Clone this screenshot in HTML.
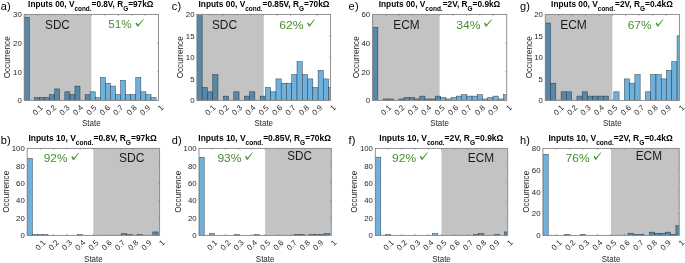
<!DOCTYPE html><html><head><meta charset="utf-8"><style>html,body{margin:0;padding:0;background:#fff;width:685px;height:263px;overflow:hidden}svg{display:block;will-change:transform}text{font-family:"Liberation Sans", sans-serif}</style></head><body>
<svg width="685" height="263" viewBox="0 0 685 263">
<rect width="685" height="263" fill="#fff"/>
<rect x="24.2" y="14.4" width="67.15" height="86" fill="#c3c3c3"/>
<g clip-path="url(#ca)">
<rect x="24.25" y="17.27" width="5.07" height="83.13" fill="#5788aa" stroke="#25303a" stroke-width="0.5" stroke-opacity="0.9"/>
<rect x="34.39" y="97.53" width="5.07" height="2.87" fill="#5788aa" stroke="#25303a" stroke-width="0.5" stroke-opacity="0.9"/>
<rect x="39.46" y="97.53" width="5.07" height="2.87" fill="#5788aa" stroke="#25303a" stroke-width="0.5" stroke-opacity="0.9"/>
<rect x="44.53" y="97.53" width="5.07" height="2.87" fill="#5788aa" stroke="#25303a" stroke-width="0.5" stroke-opacity="0.9"/>
<rect x="49.6" y="94.67" width="5.07" height="5.73" fill="#5788aa" stroke="#25303a" stroke-width="0.5" stroke-opacity="0.9"/>
<rect x="54.67" y="88.93" width="5.07" height="11.47" fill="#5788aa" stroke="#25303a" stroke-width="0.5" stroke-opacity="0.9"/>
<rect x="64.81" y="91.8" width="5.07" height="8.6" fill="#5788aa" stroke="#25303a" stroke-width="0.5" stroke-opacity="0.9"/>
<rect x="69.88" y="94.67" width="5.07" height="5.73" fill="#5788aa" stroke="#25303a" stroke-width="0.5" stroke-opacity="0.9"/>
<rect x="74.95" y="86.07" width="5.07" height="14.33" fill="#5788aa" stroke="#25303a" stroke-width="0.5" stroke-opacity="0.9"/>
<rect x="85.09" y="94.67" width="5.07" height="5.73" fill="#5788aa" stroke="#25303a" stroke-width="0.5" stroke-opacity="0.9"/>
<rect x="90.16" y="91.8" width="5.07" height="8.6" fill="#70b1db" stroke="#25303a" stroke-width="0.5" stroke-opacity="0.9"/>
<rect x="95.23" y="97.53" width="5.07" height="2.87" fill="#70b1db" stroke="#25303a" stroke-width="0.5" stroke-opacity="0.9"/>
<rect x="100.3" y="77.47" width="5.07" height="22.93" fill="#70b1db" stroke="#25303a" stroke-width="0.5" stroke-opacity="0.9"/>
<rect x="105.37" y="83.2" width="5.07" height="17.2" fill="#70b1db" stroke="#25303a" stroke-width="0.5" stroke-opacity="0.9"/>
<rect x="110.44" y="86.07" width="5.07" height="14.33" fill="#70b1db" stroke="#25303a" stroke-width="0.5" stroke-opacity="0.9"/>
<rect x="115.51" y="94.67" width="5.07" height="5.73" fill="#70b1db" stroke="#25303a" stroke-width="0.5" stroke-opacity="0.9"/>
<rect x="120.58" y="80.33" width="5.07" height="20.07" fill="#70b1db" stroke="#25303a" stroke-width="0.5" stroke-opacity="0.9"/>
<rect x="125.65" y="94.67" width="5.07" height="5.73" fill="#70b1db" stroke="#25303a" stroke-width="0.5" stroke-opacity="0.9"/>
<rect x="130.72" y="94.67" width="5.07" height="5.73" fill="#70b1db" stroke="#25303a" stroke-width="0.5" stroke-opacity="0.9"/>
<rect x="135.79" y="77.47" width="5.07" height="22.93" fill="#70b1db" stroke="#25303a" stroke-width="0.5" stroke-opacity="0.9"/>
<rect x="140.86" y="91.8" width="5.07" height="8.6" fill="#70b1db" stroke="#25303a" stroke-width="0.5" stroke-opacity="0.9"/>
<rect x="145.93" y="94.67" width="5.07" height="5.73" fill="#70b1db" stroke="#25303a" stroke-width="0.5" stroke-opacity="0.9"/>
<rect x="151" y="97.53" width="5.07" height="2.87" fill="#70b1db" stroke="#25303a" stroke-width="0.5" stroke-opacity="0.9"/>
</g>
<defs><clipPath id="ca"><rect x="24.2" y="14.4" width="134.3" height="86"/></clipPath></defs>
<rect x="24.2" y="14.4" width="134.3" height="86" fill="none" stroke="#858585" stroke-width="0.9"/>
<path d="M37.63 100.4 v-1.3 M37.63 14.4 v1.3" stroke="#858585" stroke-width="0.8"/>
<path d="M51.06 100.4 v-1.3 M51.06 14.4 v1.3" stroke="#858585" stroke-width="0.8"/>
<path d="M64.49 100.4 v-1.3 M64.49 14.4 v1.3" stroke="#858585" stroke-width="0.8"/>
<path d="M77.92 100.4 v-1.3 M77.92 14.4 v1.3" stroke="#858585" stroke-width="0.8"/>
<path d="M91.35 100.4 v-1.3 M91.35 14.4 v1.3" stroke="#858585" stroke-width="0.8"/>
<path d="M104.78 100.4 v-1.3 M104.78 14.4 v1.3" stroke="#858585" stroke-width="0.8"/>
<path d="M118.21 100.4 v-1.3 M118.21 14.4 v1.3" stroke="#858585" stroke-width="0.8"/>
<path d="M131.64 100.4 v-1.3 M131.64 14.4 v1.3" stroke="#858585" stroke-width="0.8"/>
<path d="M145.07 100.4 v-1.3 M145.07 14.4 v1.3" stroke="#858585" stroke-width="0.8"/>
<path d="M24.2 71.73 h1.3 M158.5 71.73 h-1.3" stroke="#858585" stroke-width="0.8"/>
<path d="M24.2 43.07 h1.3 M158.5 43.07 h-1.3" stroke="#858585" stroke-width="0.8"/>
<text x="21.8" y="103.2" font-size="7.8" text-anchor="end" fill="#262626">0</text>
<text x="21.8" y="74.53" font-size="7.8" text-anchor="end" fill="#262626">10</text>
<text x="21.8" y="45.87" font-size="7.8" text-anchor="end" fill="#262626">20</text>
<text x="21.8" y="17.2" font-size="7.8" text-anchor="end" fill="#262626">30</text>
<text x="10.5" y="57.3" font-size="8.7" text-anchor="middle" fill="#262626" textLength="42" lengthAdjust="spacingAndGlyphs" transform="rotate(-90 10.5 57.3)">Occurrence</text>
<text x="43.33" y="108.1" font-size="7.8" text-anchor="end" fill="#262626" transform="rotate(-45 43.33 108.1)">0.1</text>
<text x="56.76" y="108.1" font-size="7.8" text-anchor="end" fill="#262626" transform="rotate(-45 56.76 108.1)">0.2</text>
<text x="70.19" y="108.1" font-size="7.8" text-anchor="end" fill="#262626" transform="rotate(-45 70.19 108.1)">0.3</text>
<text x="83.62" y="108.1" font-size="7.8" text-anchor="end" fill="#262626" transform="rotate(-45 83.62 108.1)">0.4</text>
<text x="97.05" y="108.1" font-size="7.8" text-anchor="end" fill="#262626" transform="rotate(-45 97.05 108.1)">0.5</text>
<text x="110.48" y="108.1" font-size="7.8" text-anchor="end" fill="#262626" transform="rotate(-45 110.48 108.1)">0.6</text>
<text x="123.91" y="108.1" font-size="7.8" text-anchor="end" fill="#262626" transform="rotate(-45 123.91 108.1)">0.7</text>
<text x="137.34" y="108.1" font-size="7.8" text-anchor="end" fill="#262626" transform="rotate(-45 137.34 108.1)">0.8</text>
<text x="150.77" y="108.1" font-size="7.8" text-anchor="end" fill="#262626" transform="rotate(-45 150.77 108.1)">0.9</text>
<text x="164.2" y="108.1" font-size="7.8" text-anchor="end" fill="#262626" transform="rotate(-45 164.2 108.1)">1</text>
<text x="91.35" y="126" font-size="8.7" text-anchor="middle" fill="#262626" textLength="18.6" lengthAdjust="spacingAndGlyphs">State</text>
<text x="28.1" y="6.8" font-size="8.2" font-weight="bold" fill="#000" textLength="125.3" lengthAdjust="spacingAndGlyphs">Inputs 00, V<tspan font-size="6.4" dy="3.8">cond.</tspan><tspan dy="-3.8">=0.8V, R</tspan><tspan font-size="6.4" dy="3.8">G</tspan><tspan dy="-3.8">=97k&#937;</tspan></text>
<text x="0.8" y="9.8" font-size="11" fill="#000">a<tspan dx="0.15">)</tspan></text>
<text x="45.05" y="28.7" font-size="12" fill="#1a1a1a" textLength="24.8" lengthAdjust="spacingAndGlyphs">SDC</text>
<text x="108.2" y="28.2" font-size="11.2" fill="#468f30" textLength="23.5" lengthAdjust="spacingAndGlyphs">51%</text>
<path d="M135.5 23.14 L136.6 22.48 L138.01 24.7 L143.35 18.95 L143.75 19.45 L138.21 26.5 L137.21 26.45 Z" fill="#468f30"/>
<rect x="196.9" y="14.4" width="66.85" height="86" fill="#c3c3c3"/>
<g clip-path="url(#cc)">
<rect x="196.9" y="14.4" width="5.27" height="86" fill="#5788aa" stroke="#25303a" stroke-width="0.5" stroke-opacity="0.9"/>
<rect x="202.17" y="87.5" width="5.27" height="12.9" fill="#5788aa" stroke="#25303a" stroke-width="0.5" stroke-opacity="0.9"/>
<rect x="207.44" y="91.8" width="5.27" height="8.6" fill="#5788aa" stroke="#25303a" stroke-width="0.5" stroke-opacity="0.9"/>
<rect x="212.71" y="74.6" width="5.27" height="25.8" fill="#5788aa" stroke="#25303a" stroke-width="0.5" stroke-opacity="0.9"/>
<rect x="223.25" y="96.1" width="5.27" height="4.3" fill="#5788aa" stroke="#25303a" stroke-width="0.5" stroke-opacity="0.9"/>
<rect x="233.79" y="91.8" width="5.27" height="8.6" fill="#5788aa" stroke="#25303a" stroke-width="0.5" stroke-opacity="0.9"/>
<rect x="244.33" y="96.1" width="5.27" height="4.3" fill="#5788aa" stroke="#25303a" stroke-width="0.5" stroke-opacity="0.9"/>
<rect x="249.6" y="91.8" width="5.27" height="8.6" fill="#5788aa" stroke="#25303a" stroke-width="0.5" stroke-opacity="0.9"/>
<rect x="260.14" y="96.1" width="5.27" height="4.3" fill="#5788aa" stroke="#25303a" stroke-width="0.5" stroke-opacity="0.9"/>
<rect x="265.41" y="87.5" width="5.27" height="12.9" fill="#70b1db" stroke="#25303a" stroke-width="0.5" stroke-opacity="0.9"/>
<rect x="270.68" y="91.8" width="5.27" height="8.6" fill="#70b1db" stroke="#25303a" stroke-width="0.5" stroke-opacity="0.9"/>
<rect x="275.95" y="78.9" width="5.27" height="21.5" fill="#70b1db" stroke="#25303a" stroke-width="0.5" stroke-opacity="0.9"/>
<rect x="281.22" y="83.2" width="5.27" height="17.2" fill="#70b1db" stroke="#25303a" stroke-width="0.5" stroke-opacity="0.9"/>
<rect x="286.49" y="83.2" width="5.27" height="17.2" fill="#70b1db" stroke="#25303a" stroke-width="0.5" stroke-opacity="0.9"/>
<rect x="291.76" y="74.6" width="5.27" height="25.8" fill="#70b1db" stroke="#25303a" stroke-width="0.5" stroke-opacity="0.9"/>
<rect x="297.03" y="61.7" width="5.27" height="38.7" fill="#70b1db" stroke="#25303a" stroke-width="0.5" stroke-opacity="0.9"/>
<rect x="302.3" y="74.6" width="5.27" height="25.8" fill="#70b1db" stroke="#25303a" stroke-width="0.5" stroke-opacity="0.9"/>
<rect x="307.57" y="78.9" width="5.27" height="21.5" fill="#70b1db" stroke="#25303a" stroke-width="0.5" stroke-opacity="0.9"/>
<rect x="312.84" y="87.5" width="5.27" height="12.9" fill="#70b1db" stroke="#25303a" stroke-width="0.5" stroke-opacity="0.9"/>
<rect x="318.11" y="70.3" width="5.27" height="30.1" fill="#70b1db" stroke="#25303a" stroke-width="0.5" stroke-opacity="0.9"/>
<rect x="323.38" y="78.9" width="5.27" height="21.5" fill="#70b1db" stroke="#25303a" stroke-width="0.5" stroke-opacity="0.9"/>
<rect x="328.65" y="87.5" width="5.27" height="12.9" fill="#70b1db" stroke="#25303a" stroke-width="0.5" stroke-opacity="0.9"/>
</g>
<defs><clipPath id="cc"><rect x="196.9" y="14.4" width="133.7" height="86"/></clipPath></defs>
<rect x="196.9" y="14.4" width="133.7" height="86" fill="none" stroke="#858585" stroke-width="0.9"/>
<path d="M210.27 100.4 v-1.3 M210.27 14.4 v1.3" stroke="#858585" stroke-width="0.8"/>
<path d="M223.64 100.4 v-1.3 M223.64 14.4 v1.3" stroke="#858585" stroke-width="0.8"/>
<path d="M237.01 100.4 v-1.3 M237.01 14.4 v1.3" stroke="#858585" stroke-width="0.8"/>
<path d="M250.38 100.4 v-1.3 M250.38 14.4 v1.3" stroke="#858585" stroke-width="0.8"/>
<path d="M263.75 100.4 v-1.3 M263.75 14.4 v1.3" stroke="#858585" stroke-width="0.8"/>
<path d="M277.12 100.4 v-1.3 M277.12 14.4 v1.3" stroke="#858585" stroke-width="0.8"/>
<path d="M290.49 100.4 v-1.3 M290.49 14.4 v1.3" stroke="#858585" stroke-width="0.8"/>
<path d="M303.86 100.4 v-1.3 M303.86 14.4 v1.3" stroke="#858585" stroke-width="0.8"/>
<path d="M317.23 100.4 v-1.3 M317.23 14.4 v1.3" stroke="#858585" stroke-width="0.8"/>
<path d="M196.9 78.9 h1.3 M330.6 78.9 h-1.3" stroke="#858585" stroke-width="0.8"/>
<path d="M196.9 57.4 h1.3 M330.6 57.4 h-1.3" stroke="#858585" stroke-width="0.8"/>
<path d="M196.9 35.9 h1.3 M330.6 35.9 h-1.3" stroke="#858585" stroke-width="0.8"/>
<text x="194.5" y="103.2" font-size="7.8" text-anchor="end" fill="#262626">0</text>
<text x="194.5" y="81.7" font-size="7.8" text-anchor="end" fill="#262626">5</text>
<text x="194.5" y="60.2" font-size="7.8" text-anchor="end" fill="#262626">10</text>
<text x="194.5" y="38.7" font-size="7.8" text-anchor="end" fill="#262626">15</text>
<text x="194.5" y="17.2" font-size="7.8" text-anchor="end" fill="#262626">20</text>
<text x="183.2" y="57.3" font-size="8.7" text-anchor="middle" fill="#262626" textLength="42" lengthAdjust="spacingAndGlyphs" transform="rotate(-90 183.2 57.3)">Occurrence</text>
<text x="215.97" y="108.1" font-size="7.8" text-anchor="end" fill="#262626" transform="rotate(-45 215.97 108.1)">0.1</text>
<text x="229.34" y="108.1" font-size="7.8" text-anchor="end" fill="#262626" transform="rotate(-45 229.34 108.1)">0.2</text>
<text x="242.71" y="108.1" font-size="7.8" text-anchor="end" fill="#262626" transform="rotate(-45 242.71 108.1)">0.3</text>
<text x="256.08" y="108.1" font-size="7.8" text-anchor="end" fill="#262626" transform="rotate(-45 256.08 108.1)">0.4</text>
<text x="269.45" y="108.1" font-size="7.8" text-anchor="end" fill="#262626" transform="rotate(-45 269.45 108.1)">0.5</text>
<text x="282.82" y="108.1" font-size="7.8" text-anchor="end" fill="#262626" transform="rotate(-45 282.82 108.1)">0.6</text>
<text x="296.19" y="108.1" font-size="7.8" text-anchor="end" fill="#262626" transform="rotate(-45 296.19 108.1)">0.7</text>
<text x="309.56" y="108.1" font-size="7.8" text-anchor="end" fill="#262626" transform="rotate(-45 309.56 108.1)">0.8</text>
<text x="322.93" y="108.1" font-size="7.8" text-anchor="end" fill="#262626" transform="rotate(-45 322.93 108.1)">0.9</text>
<text x="336.3" y="108.1" font-size="7.8" text-anchor="end" fill="#262626" transform="rotate(-45 336.3 108.1)">1</text>
<text x="263.75" y="126" font-size="8.7" text-anchor="middle" fill="#262626" textLength="18.6" lengthAdjust="spacingAndGlyphs">State</text>
<text x="198.5" y="6.8" font-size="8.2" font-weight="bold" fill="#000" textLength="131" lengthAdjust="spacingAndGlyphs">Inputs 00, V<tspan font-size="6.4" dy="3.8">cond.</tspan><tspan dy="-3.8">=0.85V, R</tspan><tspan font-size="6.4" dy="3.8">G</tspan><tspan dy="-3.8">=70k&#937;</tspan></text>
<text x="171.8" y="9.8" font-size="11" fill="#000">c<tspan dx="0.15">)</tspan></text>
<text x="211.95" y="28.6" font-size="12" fill="#1a1a1a" textLength="25.1" lengthAdjust="spacingAndGlyphs">SDC</text>
<text x="279.2" y="28.5" font-size="11.2" fill="#468f30" textLength="24.5" lengthAdjust="spacingAndGlyphs">62%</text>
<path d="M307.2 23.23 L308.3 22.58 L309.55 24.7 L314.45 19.15 L314.85 19.65 L309.75 26.5 L308.75 26.45 Z" fill="#468f30"/>
<rect x="372.6" y="14.4" width="67.05" height="86" fill="#c3c3c3"/>
<g clip-path="url(#ce)">
<rect x="372.65" y="27.3" width="5.23" height="73.1" fill="#5788aa" stroke="#25303a" stroke-width="0.5" stroke-opacity="0.9"/>
<rect x="383.12" y="98.97" width="5.23" height="1.43" fill="#5788aa" stroke="#25303a" stroke-width="0.5" stroke-opacity="0.9"/>
<rect x="388.35" y="98.97" width="5.23" height="1.43" fill="#5788aa" stroke="#25303a" stroke-width="0.5" stroke-opacity="0.9"/>
<rect x="398.81" y="98.97" width="5.23" height="1.43" fill="#5788aa" stroke="#25303a" stroke-width="0.5" stroke-opacity="0.9"/>
<rect x="404.05" y="97.53" width="5.23" height="2.87" fill="#5788aa" stroke="#25303a" stroke-width="0.5" stroke-opacity="0.9"/>
<rect x="409.28" y="97.53" width="5.23" height="2.87" fill="#5788aa" stroke="#25303a" stroke-width="0.5" stroke-opacity="0.9"/>
<rect x="414.51" y="98.97" width="5.23" height="1.43" fill="#5788aa" stroke="#25303a" stroke-width="0.5" stroke-opacity="0.9"/>
<rect x="419.75" y="96.1" width="5.23" height="4.3" fill="#5788aa" stroke="#25303a" stroke-width="0.5" stroke-opacity="0.9"/>
<rect x="424.98" y="98.97" width="5.23" height="1.43" fill="#5788aa" stroke="#25303a" stroke-width="0.5" stroke-opacity="0.9"/>
<rect x="430.21" y="98.97" width="5.23" height="1.43" fill="#5788aa" stroke="#25303a" stroke-width="0.5" stroke-opacity="0.9"/>
<rect x="435.45" y="96.1" width="5.23" height="4.3" fill="#5788aa" stroke="#25303a" stroke-width="0.5" stroke-opacity="0.9"/>
<rect x="440.68" y="97.53" width="5.23" height="2.87" fill="#70b1db" stroke="#25303a" stroke-width="0.5" stroke-opacity="0.9"/>
<rect x="445.91" y="98.97" width="5.23" height="1.43" fill="#70b1db" stroke="#25303a" stroke-width="0.5" stroke-opacity="0.9"/>
<rect x="451.14" y="97.53" width="5.23" height="2.87" fill="#70b1db" stroke="#25303a" stroke-width="0.5" stroke-opacity="0.9"/>
<rect x="456.38" y="96.1" width="5.23" height="4.3" fill="#70b1db" stroke="#25303a" stroke-width="0.5" stroke-opacity="0.9"/>
<rect x="461.61" y="94.67" width="5.23" height="5.73" fill="#70b1db" stroke="#25303a" stroke-width="0.5" stroke-opacity="0.9"/>
<rect x="466.84" y="96.1" width="5.23" height="4.3" fill="#70b1db" stroke="#25303a" stroke-width="0.5" stroke-opacity="0.9"/>
<rect x="472.08" y="96.1" width="5.23" height="4.3" fill="#70b1db" stroke="#25303a" stroke-width="0.5" stroke-opacity="0.9"/>
<rect x="477.31" y="94.67" width="5.23" height="5.73" fill="#70b1db" stroke="#25303a" stroke-width="0.5" stroke-opacity="0.9"/>
<rect x="482.54" y="98.97" width="5.23" height="1.43" fill="#70b1db" stroke="#25303a" stroke-width="0.5" stroke-opacity="0.9"/>
<rect x="487.78" y="97.53" width="5.23" height="2.87" fill="#70b1db" stroke="#25303a" stroke-width="0.5" stroke-opacity="0.9"/>
<rect x="493.01" y="96.1" width="5.23" height="4.3" fill="#70b1db" stroke="#25303a" stroke-width="0.5" stroke-opacity="0.9"/>
<rect x="498.24" y="98.97" width="5.23" height="1.43" fill="#70b1db" stroke="#25303a" stroke-width="0.5" stroke-opacity="0.9"/>
<rect x="503.47" y="94.67" width="5.23" height="5.73" fill="#70b1db" stroke="#25303a" stroke-width="0.5" stroke-opacity="0.9"/>
</g>
<defs><clipPath id="ce"><rect x="372.6" y="14.4" width="134.1" height="86"/></clipPath></defs>
<rect x="372.6" y="14.4" width="134.1" height="86" fill="none" stroke="#858585" stroke-width="0.9"/>
<path d="M386.01 100.4 v-1.3 M386.01 14.4 v1.3" stroke="#858585" stroke-width="0.8"/>
<path d="M399.42 100.4 v-1.3 M399.42 14.4 v1.3" stroke="#858585" stroke-width="0.8"/>
<path d="M412.83 100.4 v-1.3 M412.83 14.4 v1.3" stroke="#858585" stroke-width="0.8"/>
<path d="M426.24 100.4 v-1.3 M426.24 14.4 v1.3" stroke="#858585" stroke-width="0.8"/>
<path d="M439.65 100.4 v-1.3 M439.65 14.4 v1.3" stroke="#858585" stroke-width="0.8"/>
<path d="M453.06 100.4 v-1.3 M453.06 14.4 v1.3" stroke="#858585" stroke-width="0.8"/>
<path d="M466.47 100.4 v-1.3 M466.47 14.4 v1.3" stroke="#858585" stroke-width="0.8"/>
<path d="M479.88 100.4 v-1.3 M479.88 14.4 v1.3" stroke="#858585" stroke-width="0.8"/>
<path d="M493.29 100.4 v-1.3 M493.29 14.4 v1.3" stroke="#858585" stroke-width="0.8"/>
<path d="M372.6 71.73 h1.3 M506.7 71.73 h-1.3" stroke="#858585" stroke-width="0.8"/>
<path d="M372.6 43.07 h1.3 M506.7 43.07 h-1.3" stroke="#858585" stroke-width="0.8"/>
<text x="370.2" y="103.2" font-size="7.8" text-anchor="end" fill="#262626">0</text>
<text x="370.2" y="74.53" font-size="7.8" text-anchor="end" fill="#262626">20</text>
<text x="370.2" y="45.87" font-size="7.8" text-anchor="end" fill="#262626">40</text>
<text x="370.2" y="17.2" font-size="7.8" text-anchor="end" fill="#262626">60</text>
<text x="358.9" y="57.3" font-size="8.7" text-anchor="middle" fill="#262626" textLength="42" lengthAdjust="spacingAndGlyphs" transform="rotate(-90 358.9 57.3)">Occurrence</text>
<text x="391.71" y="108.1" font-size="7.8" text-anchor="end" fill="#262626" transform="rotate(-45 391.71 108.1)">0.1</text>
<text x="405.12" y="108.1" font-size="7.8" text-anchor="end" fill="#262626" transform="rotate(-45 405.12 108.1)">0.2</text>
<text x="418.53" y="108.1" font-size="7.8" text-anchor="end" fill="#262626" transform="rotate(-45 418.53 108.1)">0.3</text>
<text x="431.94" y="108.1" font-size="7.8" text-anchor="end" fill="#262626" transform="rotate(-45 431.94 108.1)">0.4</text>
<text x="445.35" y="108.1" font-size="7.8" text-anchor="end" fill="#262626" transform="rotate(-45 445.35 108.1)">0.5</text>
<text x="458.76" y="108.1" font-size="7.8" text-anchor="end" fill="#262626" transform="rotate(-45 458.76 108.1)">0.6</text>
<text x="472.17" y="108.1" font-size="7.8" text-anchor="end" fill="#262626" transform="rotate(-45 472.17 108.1)">0.7</text>
<text x="485.58" y="108.1" font-size="7.8" text-anchor="end" fill="#262626" transform="rotate(-45 485.58 108.1)">0.8</text>
<text x="498.99" y="108.1" font-size="7.8" text-anchor="end" fill="#262626" transform="rotate(-45 498.99 108.1)">0.9</text>
<text x="512.4" y="108.1" font-size="7.8" text-anchor="end" fill="#262626" transform="rotate(-45 512.4 108.1)">1</text>
<text x="439.65" y="126" font-size="8.7" text-anchor="middle" fill="#262626" textLength="18.6" lengthAdjust="spacingAndGlyphs">State</text>
<text x="378.7" y="6.8" font-size="8.2" font-weight="bold" fill="#000" textLength="121.6" lengthAdjust="spacingAndGlyphs">Inputs 00, V<tspan font-size="6.4" dy="3.8">cond.</tspan><tspan dy="-3.8">=2V, R</tspan><tspan font-size="6.4" dy="3.8">G</tspan><tspan dy="-3.8">=0.9k&#937;</tspan></text>
<text x="348.6" y="9.8" font-size="11" fill="#000">e<tspan dx="0.15">)</tspan></text>
<text x="393.35" y="28.6" font-size="12" fill="#1a1a1a" textLength="26.2" lengthAdjust="spacingAndGlyphs">ECM</text>
<text x="456.2" y="28.5" font-size="11.2" fill="#468f30" textLength="24.3" lengthAdjust="spacingAndGlyphs">34%</text>
<path d="M484 23.23 L485.1 22.58 L486.41 24.7 L491.45 19.15 L491.85 19.65 L486.61 26.5 L485.61 26.45 Z" fill="#468f30"/>
<rect x="545.3" y="14.4" width="67.05" height="86" fill="#c3c3c3"/>
<g clip-path="url(#cg)">
<rect x="545.3" y="23" width="5.27" height="77.4" fill="#5788aa" stroke="#25303a" stroke-width="0.5" stroke-opacity="0.9"/>
<rect x="550.57" y="83.2" width="5.27" height="17.2" fill="#5788aa" stroke="#25303a" stroke-width="0.5" stroke-opacity="0.9"/>
<rect x="561.11" y="91.8" width="5.27" height="8.6" fill="#5788aa" stroke="#25303a" stroke-width="0.5" stroke-opacity="0.9"/>
<rect x="566.38" y="91.8" width="5.27" height="8.6" fill="#5788aa" stroke="#25303a" stroke-width="0.5" stroke-opacity="0.9"/>
<rect x="576.92" y="96.1" width="5.27" height="4.3" fill="#5788aa" stroke="#25303a" stroke-width="0.5" stroke-opacity="0.9"/>
<rect x="582.19" y="91.8" width="5.27" height="8.6" fill="#5788aa" stroke="#25303a" stroke-width="0.5" stroke-opacity="0.9"/>
<rect x="587.46" y="96.1" width="5.27" height="4.3" fill="#5788aa" stroke="#25303a" stroke-width="0.5" stroke-opacity="0.9"/>
<rect x="592.73" y="96.1" width="5.27" height="4.3" fill="#5788aa" stroke="#25303a" stroke-width="0.5" stroke-opacity="0.9"/>
<rect x="598" y="96.1" width="5.27" height="4.3" fill="#5788aa" stroke="#25303a" stroke-width="0.5" stroke-opacity="0.9"/>
<rect x="603.27" y="96.1" width="5.27" height="4.3" fill="#5788aa" stroke="#25303a" stroke-width="0.5" stroke-opacity="0.9"/>
<rect x="613.81" y="91.8" width="5.27" height="8.6" fill="#70b1db" stroke="#25303a" stroke-width="0.5" stroke-opacity="0.9"/>
<rect x="624.35" y="78.9" width="5.27" height="21.5" fill="#70b1db" stroke="#25303a" stroke-width="0.5" stroke-opacity="0.9"/>
<rect x="629.62" y="83.2" width="5.27" height="17.2" fill="#70b1db" stroke="#25303a" stroke-width="0.5" stroke-opacity="0.9"/>
<rect x="634.89" y="74.6" width="5.27" height="25.8" fill="#70b1db" stroke="#25303a" stroke-width="0.5" stroke-opacity="0.9"/>
<rect x="645.43" y="91.8" width="5.27" height="8.6" fill="#70b1db" stroke="#25303a" stroke-width="0.5" stroke-opacity="0.9"/>
<rect x="650.7" y="74.6" width="5.27" height="25.8" fill="#70b1db" stroke="#25303a" stroke-width="0.5" stroke-opacity="0.9"/>
<rect x="655.97" y="74.6" width="5.27" height="25.8" fill="#70b1db" stroke="#25303a" stroke-width="0.5" stroke-opacity="0.9"/>
<rect x="661.24" y="78.9" width="5.27" height="21.5" fill="#70b1db" stroke="#25303a" stroke-width="0.5" stroke-opacity="0.9"/>
<rect x="666.51" y="70.3" width="5.27" height="30.1" fill="#70b1db" stroke="#25303a" stroke-width="0.5" stroke-opacity="0.9"/>
<rect x="671.78" y="61.7" width="5.27" height="38.7" fill="#70b1db" stroke="#25303a" stroke-width="0.5" stroke-opacity="0.9"/>
<rect x="677.05" y="35.9" width="5.27" height="64.5" fill="#70b1db" stroke="#25303a" stroke-width="0.5" stroke-opacity="0.9"/>
</g>
<defs><clipPath id="cg"><rect x="545.3" y="14.4" width="134.1" height="86"/></clipPath></defs>
<rect x="545.3" y="14.4" width="134.1" height="86" fill="none" stroke="#858585" stroke-width="0.9"/>
<path d="M558.71 100.4 v-1.3 M558.71 14.4 v1.3" stroke="#858585" stroke-width="0.8"/>
<path d="M572.12 100.4 v-1.3 M572.12 14.4 v1.3" stroke="#858585" stroke-width="0.8"/>
<path d="M585.53 100.4 v-1.3 M585.53 14.4 v1.3" stroke="#858585" stroke-width="0.8"/>
<path d="M598.94 100.4 v-1.3 M598.94 14.4 v1.3" stroke="#858585" stroke-width="0.8"/>
<path d="M612.35 100.4 v-1.3 M612.35 14.4 v1.3" stroke="#858585" stroke-width="0.8"/>
<path d="M625.76 100.4 v-1.3 M625.76 14.4 v1.3" stroke="#858585" stroke-width="0.8"/>
<path d="M639.17 100.4 v-1.3 M639.17 14.4 v1.3" stroke="#858585" stroke-width="0.8"/>
<path d="M652.58 100.4 v-1.3 M652.58 14.4 v1.3" stroke="#858585" stroke-width="0.8"/>
<path d="M665.99 100.4 v-1.3 M665.99 14.4 v1.3" stroke="#858585" stroke-width="0.8"/>
<path d="M545.3 78.9 h1.3 M679.4 78.9 h-1.3" stroke="#858585" stroke-width="0.8"/>
<path d="M545.3 57.4 h1.3 M679.4 57.4 h-1.3" stroke="#858585" stroke-width="0.8"/>
<path d="M545.3 35.9 h1.3 M679.4 35.9 h-1.3" stroke="#858585" stroke-width="0.8"/>
<text x="542.9" y="103.2" font-size="7.8" text-anchor="end" fill="#262626">0</text>
<text x="542.9" y="81.7" font-size="7.8" text-anchor="end" fill="#262626">5</text>
<text x="542.9" y="60.2" font-size="7.8" text-anchor="end" fill="#262626">10</text>
<text x="542.9" y="38.7" font-size="7.8" text-anchor="end" fill="#262626">15</text>
<text x="542.9" y="17.2" font-size="7.8" text-anchor="end" fill="#262626">20</text>
<text x="531.6" y="57.3" font-size="8.7" text-anchor="middle" fill="#262626" textLength="42" lengthAdjust="spacingAndGlyphs" transform="rotate(-90 531.6 57.3)">Occurrence</text>
<text x="564.41" y="108.1" font-size="7.8" text-anchor="end" fill="#262626" transform="rotate(-45 564.41 108.1)">0.1</text>
<text x="577.82" y="108.1" font-size="7.8" text-anchor="end" fill="#262626" transform="rotate(-45 577.82 108.1)">0.2</text>
<text x="591.23" y="108.1" font-size="7.8" text-anchor="end" fill="#262626" transform="rotate(-45 591.23 108.1)">0.3</text>
<text x="604.64" y="108.1" font-size="7.8" text-anchor="end" fill="#262626" transform="rotate(-45 604.64 108.1)">0.4</text>
<text x="618.05" y="108.1" font-size="7.8" text-anchor="end" fill="#262626" transform="rotate(-45 618.05 108.1)">0.5</text>
<text x="631.46" y="108.1" font-size="7.8" text-anchor="end" fill="#262626" transform="rotate(-45 631.46 108.1)">0.6</text>
<text x="644.87" y="108.1" font-size="7.8" text-anchor="end" fill="#262626" transform="rotate(-45 644.87 108.1)">0.7</text>
<text x="658.28" y="108.1" font-size="7.8" text-anchor="end" fill="#262626" transform="rotate(-45 658.28 108.1)">0.8</text>
<text x="671.69" y="108.1" font-size="7.8" text-anchor="end" fill="#262626" transform="rotate(-45 671.69 108.1)">0.9</text>
<text x="685.1" y="108.1" font-size="7.8" text-anchor="end" fill="#262626" transform="rotate(-45 685.1 108.1)">1</text>
<text x="612.35" y="126" font-size="8.7" text-anchor="middle" fill="#262626" textLength="18.6" lengthAdjust="spacingAndGlyphs">State</text>
<text x="551.1" y="6.8" font-size="8.2" font-weight="bold" fill="#000" textLength="121.7" lengthAdjust="spacingAndGlyphs">Inputs 00, V<tspan font-size="6.4" dy="3.8">cond.</tspan><tspan dy="-3.8">=2V, R</tspan><tspan font-size="6.4" dy="3.8">G</tspan><tspan dy="-3.8">=0.4k&#937;</tspan></text>
<text x="519.9" y="9.8" font-size="11" fill="#000">g<tspan dx="0.15">)</tspan></text>
<text x="560.15" y="28.6" font-size="12" fill="#1a1a1a" textLength="26.7" lengthAdjust="spacingAndGlyphs">ECM</text>
<text x="627.7" y="28.5" font-size="11.2" fill="#468f30" textLength="24" lengthAdjust="spacingAndGlyphs">67%</text>
<path d="M655.7 23.23 L656.8 22.58 L658.05 24.7 L662.95 19.15 L663.35 19.65 L658.25 26.5 L657.25 26.45 Z" fill="#468f30"/>
<rect x="93.4" y="148.4" width="66.2" height="87" fill="#c3c3c3"/>
<g clip-path="url(#cb)">
<rect x="27.2" y="158.41" width="5.2" height="77" fill="#70b1db" stroke="#25303a" stroke-width="0.5" stroke-opacity="0.9"/>
<rect x="32.4" y="234.53" width="5.2" height="0.87" fill="#70b1db" stroke="#25303a" stroke-width="0.5" stroke-opacity="0.9"/>
<rect x="37.6" y="234.53" width="5.2" height="0.87" fill="#70b1db" stroke="#25303a" stroke-width="0.5" stroke-opacity="0.9"/>
<rect x="42.8" y="234.53" width="5.2" height="0.87" fill="#70b1db" stroke="#25303a" stroke-width="0.5" stroke-opacity="0.9"/>
<rect x="77.3" y="234.53" width="5.3" height="0.87" fill="#70b1db" stroke="#25303a" stroke-width="0.5" stroke-opacity="0.9"/>
<rect x="121.3" y="233.66" width="5.3" height="1.74" fill="#5788aa" stroke="#25303a" stroke-width="0.5" stroke-opacity="0.9"/>
<rect x="126.6" y="234.53" width="5.2" height="0.87" fill="#5788aa" stroke="#25303a" stroke-width="0.5" stroke-opacity="0.9"/>
<rect x="137" y="234.53" width="5.3" height="0.87" fill="#5788aa" stroke="#25303a" stroke-width="0.5" stroke-opacity="0.9"/>
<rect x="152.8" y="231.92" width="5.2" height="3.48" fill="#5788aa" stroke="#25303a" stroke-width="0.5" stroke-opacity="0.9"/>
</g>
<defs><clipPath id="cb"><rect x="27.2" y="148.4" width="132.4" height="87"/></clipPath></defs>
<rect x="27.2" y="148.4" width="132.4" height="87" fill="none" stroke="#858585" stroke-width="0.9"/>
<path d="M40.44 235.4 v-1.3 M40.44 148.4 v1.3" stroke="#858585" stroke-width="0.8"/>
<path d="M53.68 235.4 v-1.3 M53.68 148.4 v1.3" stroke="#858585" stroke-width="0.8"/>
<path d="M66.92 235.4 v-1.3 M66.92 148.4 v1.3" stroke="#858585" stroke-width="0.8"/>
<path d="M80.16 235.4 v-1.3 M80.16 148.4 v1.3" stroke="#858585" stroke-width="0.8"/>
<path d="M93.4 235.4 v-1.3 M93.4 148.4 v1.3" stroke="#858585" stroke-width="0.8"/>
<path d="M106.64 235.4 v-1.3 M106.64 148.4 v1.3" stroke="#858585" stroke-width="0.8"/>
<path d="M119.88 235.4 v-1.3 M119.88 148.4 v1.3" stroke="#858585" stroke-width="0.8"/>
<path d="M133.12 235.4 v-1.3 M133.12 148.4 v1.3" stroke="#858585" stroke-width="0.8"/>
<path d="M146.36 235.4 v-1.3 M146.36 148.4 v1.3" stroke="#858585" stroke-width="0.8"/>
<path d="M27.2 218 h1.3 M159.6 218 h-1.3" stroke="#858585" stroke-width="0.8"/>
<path d="M27.2 200.6 h1.3 M159.6 200.6 h-1.3" stroke="#858585" stroke-width="0.8"/>
<path d="M27.2 183.2 h1.3 M159.6 183.2 h-1.3" stroke="#858585" stroke-width="0.8"/>
<path d="M27.2 165.8 h1.3 M159.6 165.8 h-1.3" stroke="#858585" stroke-width="0.8"/>
<text x="24.8" y="238.2" font-size="7.8" text-anchor="end" fill="#262626">0</text>
<text x="24.8" y="220.8" font-size="7.8" text-anchor="end" fill="#262626">20</text>
<text x="24.8" y="203.4" font-size="7.8" text-anchor="end" fill="#262626">40</text>
<text x="24.8" y="186" font-size="7.8" text-anchor="end" fill="#262626">60</text>
<text x="24.8" y="168.6" font-size="7.8" text-anchor="end" fill="#262626">80</text>
<text x="24.8" y="151.2" font-size="7.8" text-anchor="end" fill="#262626">100</text>
<text x="9.2" y="191.8" font-size="8.7" text-anchor="middle" fill="#262626" textLength="42" lengthAdjust="spacingAndGlyphs" transform="rotate(-90 9.2 191.8)">Occurrence</text>
<text x="46.14" y="243.1" font-size="7.8" text-anchor="end" fill="#262626" transform="rotate(-45 46.14 243.1)">0.1</text>
<text x="59.38" y="243.1" font-size="7.8" text-anchor="end" fill="#262626" transform="rotate(-45 59.38 243.1)">0.2</text>
<text x="72.62" y="243.1" font-size="7.8" text-anchor="end" fill="#262626" transform="rotate(-45 72.62 243.1)">0.3</text>
<text x="85.86" y="243.1" font-size="7.8" text-anchor="end" fill="#262626" transform="rotate(-45 85.86 243.1)">0.4</text>
<text x="99.1" y="243.1" font-size="7.8" text-anchor="end" fill="#262626" transform="rotate(-45 99.1 243.1)">0.5</text>
<text x="112.34" y="243.1" font-size="7.8" text-anchor="end" fill="#262626" transform="rotate(-45 112.34 243.1)">0.6</text>
<text x="125.58" y="243.1" font-size="7.8" text-anchor="end" fill="#262626" transform="rotate(-45 125.58 243.1)">0.7</text>
<text x="138.82" y="243.1" font-size="7.8" text-anchor="end" fill="#262626" transform="rotate(-45 138.82 243.1)">0.8</text>
<text x="152.06" y="243.1" font-size="7.8" text-anchor="end" fill="#262626" transform="rotate(-45 152.06 243.1)">0.9</text>
<text x="165.3" y="243.1" font-size="7.8" text-anchor="end" fill="#262626" transform="rotate(-45 165.3 243.1)">1</text>
<text x="93.4" y="261.6" font-size="8.7" text-anchor="middle" fill="#262626" textLength="18.6" lengthAdjust="spacingAndGlyphs">State</text>
<text x="28.4" y="140.8" font-size="8.2" font-weight="bold" fill="#000" textLength="128.4" lengthAdjust="spacingAndGlyphs">Inputs 10, V<tspan font-size="6.4" dy="3.8">cond.</tspan><tspan dy="-3.8">=0.8V, R</tspan><tspan font-size="6.4" dy="3.8">G</tspan><tspan dy="-3.8">=97k&#937;</tspan></text>
<text x="0.8" y="143.8" font-size="11" fill="#000">b<tspan dx="0.15">)</tspan></text>
<text x="118.95" y="161.7" font-size="12" fill="#1a1a1a" textLength="25.6" lengthAdjust="spacingAndGlyphs">SDC</text>
<text x="43.8" y="161.7" font-size="11.2" fill="#468f30" textLength="23.6" lengthAdjust="spacingAndGlyphs">92%</text>
<path d="M71.4 156.74 L72.5 156.08 L73.75 158.3 L78.65 152.55 L79.05 153.05 L73.95 160.1 L72.95 160.05 Z" fill="#468f30"/>
<rect x="265.15" y="148.4" width="66.15" height="87" fill="#c3c3c3"/>
<g clip-path="url(#cd)">
<rect x="199" y="157.27" width="5.2" height="78.13" fill="#70b1db" stroke="#25303a" stroke-width="0.5" stroke-opacity="0.9"/>
<rect x="209.3" y="233.66" width="5.2" height="1.74" fill="#70b1db" stroke="#25303a" stroke-width="0.5" stroke-opacity="0.9"/>
<rect x="234.2" y="234.53" width="5.2" height="0.87" fill="#70b1db" stroke="#25303a" stroke-width="0.5" stroke-opacity="0.9"/>
<rect x="254.2" y="234.53" width="5.2" height="0.87" fill="#70b1db" stroke="#25303a" stroke-width="0.5" stroke-opacity="0.9"/>
<rect x="294.2" y="234.53" width="5.2" height="0.87" fill="#5788aa" stroke="#25303a" stroke-width="0.5" stroke-opacity="0.9"/>
<rect x="299.4" y="234.53" width="5.2" height="0.87" fill="#5788aa" stroke="#25303a" stroke-width="0.5" stroke-opacity="0.9"/>
<rect x="309" y="234.53" width="5.2" height="0.87" fill="#5788aa" stroke="#25303a" stroke-width="0.5" stroke-opacity="0.9"/>
<rect x="314.2" y="234.53" width="5.2" height="0.87" fill="#5788aa" stroke="#25303a" stroke-width="0.5" stroke-opacity="0.9"/>
<rect x="319.4" y="234.53" width="5.2" height="0.87" fill="#5788aa" stroke="#25303a" stroke-width="0.5" stroke-opacity="0.9"/>
<rect x="324.6" y="233.66" width="5.2" height="1.74" fill="#5788aa" stroke="#25303a" stroke-width="0.5" stroke-opacity="0.9"/>
</g>
<defs><clipPath id="cd"><rect x="199" y="148.4" width="132.3" height="87"/></clipPath></defs>
<rect x="199" y="148.4" width="132.3" height="87" fill="none" stroke="#858585" stroke-width="0.9"/>
<path d="M212.23 235.4 v-1.3 M212.23 148.4 v1.3" stroke="#858585" stroke-width="0.8"/>
<path d="M225.46 235.4 v-1.3 M225.46 148.4 v1.3" stroke="#858585" stroke-width="0.8"/>
<path d="M238.69 235.4 v-1.3 M238.69 148.4 v1.3" stroke="#858585" stroke-width="0.8"/>
<path d="M251.92 235.4 v-1.3 M251.92 148.4 v1.3" stroke="#858585" stroke-width="0.8"/>
<path d="M265.15 235.4 v-1.3 M265.15 148.4 v1.3" stroke="#858585" stroke-width="0.8"/>
<path d="M278.38 235.4 v-1.3 M278.38 148.4 v1.3" stroke="#858585" stroke-width="0.8"/>
<path d="M291.61 235.4 v-1.3 M291.61 148.4 v1.3" stroke="#858585" stroke-width="0.8"/>
<path d="M304.84 235.4 v-1.3 M304.84 148.4 v1.3" stroke="#858585" stroke-width="0.8"/>
<path d="M318.07 235.4 v-1.3 M318.07 148.4 v1.3" stroke="#858585" stroke-width="0.8"/>
<path d="M199 218 h1.3 M331.3 218 h-1.3" stroke="#858585" stroke-width="0.8"/>
<path d="M199 200.6 h1.3 M331.3 200.6 h-1.3" stroke="#858585" stroke-width="0.8"/>
<path d="M199 183.2 h1.3 M331.3 183.2 h-1.3" stroke="#858585" stroke-width="0.8"/>
<path d="M199 165.8 h1.3 M331.3 165.8 h-1.3" stroke="#858585" stroke-width="0.8"/>
<text x="196.6" y="238.2" font-size="7.8" text-anchor="end" fill="#262626">0</text>
<text x="196.6" y="220.8" font-size="7.8" text-anchor="end" fill="#262626">20</text>
<text x="196.6" y="203.4" font-size="7.8" text-anchor="end" fill="#262626">40</text>
<text x="196.6" y="186" font-size="7.8" text-anchor="end" fill="#262626">60</text>
<text x="196.6" y="168.6" font-size="7.8" text-anchor="end" fill="#262626">80</text>
<text x="196.6" y="151.2" font-size="7.8" text-anchor="end" fill="#262626">100</text>
<text x="181" y="191.8" font-size="8.7" text-anchor="middle" fill="#262626" textLength="42" lengthAdjust="spacingAndGlyphs" transform="rotate(-90 181 191.8)">Occurrence</text>
<text x="217.93" y="243.1" font-size="7.8" text-anchor="end" fill="#262626" transform="rotate(-45 217.93 243.1)">0.1</text>
<text x="231.16" y="243.1" font-size="7.8" text-anchor="end" fill="#262626" transform="rotate(-45 231.16 243.1)">0.2</text>
<text x="244.39" y="243.1" font-size="7.8" text-anchor="end" fill="#262626" transform="rotate(-45 244.39 243.1)">0.3</text>
<text x="257.62" y="243.1" font-size="7.8" text-anchor="end" fill="#262626" transform="rotate(-45 257.62 243.1)">0.4</text>
<text x="270.85" y="243.1" font-size="7.8" text-anchor="end" fill="#262626" transform="rotate(-45 270.85 243.1)">0.5</text>
<text x="284.08" y="243.1" font-size="7.8" text-anchor="end" fill="#262626" transform="rotate(-45 284.08 243.1)">0.6</text>
<text x="297.31" y="243.1" font-size="7.8" text-anchor="end" fill="#262626" transform="rotate(-45 297.31 243.1)">0.7</text>
<text x="310.54" y="243.1" font-size="7.8" text-anchor="end" fill="#262626" transform="rotate(-45 310.54 243.1)">0.8</text>
<text x="323.77" y="243.1" font-size="7.8" text-anchor="end" fill="#262626" transform="rotate(-45 323.77 243.1)">0.9</text>
<text x="337" y="243.1" font-size="7.8" text-anchor="end" fill="#262626" transform="rotate(-45 337 243.1)">1</text>
<text x="265.15" y="261.6" font-size="8.7" text-anchor="middle" fill="#262626" textLength="18.6" lengthAdjust="spacingAndGlyphs">State</text>
<text x="198.3" y="140.8" font-size="8.2" font-weight="bold" fill="#000" textLength="132.7" lengthAdjust="spacingAndGlyphs">Inputs 10, V<tspan font-size="6.4" dy="3.8">cond.</tspan><tspan dy="-3.8">=0.85V, R</tspan><tspan font-size="6.4" dy="3.8">G</tspan><tspan dy="-3.8">=70k&#937;</tspan></text>
<text x="171.8" y="143.8" font-size="11" fill="#000">d<tspan dx="0.15">)</tspan></text>
<text x="287.25" y="160.4" font-size="12" fill="#1a1a1a" textLength="24.8" lengthAdjust="spacingAndGlyphs">SDC</text>
<text x="217.4" y="161.7" font-size="11.2" fill="#468f30" textLength="24.1" lengthAdjust="spacingAndGlyphs">93%</text>
<path d="M245.1 156.39 L246.2 155.73 L247.45 157.9 L252.35 152.25 L252.75 152.75 L247.65 159.7 L246.65 159.65 Z" fill="#468f30"/>
<rect x="441.5" y="148.4" width="66.2" height="87" fill="#c3c3c3"/>
<g clip-path="url(#cf)">
<rect x="375.3" y="157.19" width="5.5" height="78.21" fill="#70b1db" stroke="#25303a" stroke-width="0.5" stroke-opacity="0.9"/>
<rect x="385.5" y="234.53" width="5.3" height="0.87" fill="#70b1db" stroke="#25303a" stroke-width="0.5" stroke-opacity="0.9"/>
<rect x="432.5" y="233.66" width="5.3" height="1.74" fill="#70b1db" stroke="#25303a" stroke-width="0.5" stroke-opacity="0.9"/>
<rect x="473.3" y="234.53" width="5.3" height="0.87" fill="#5788aa" stroke="#25303a" stroke-width="0.5" stroke-opacity="0.9"/>
<rect x="478.6" y="233.66" width="5.3" height="1.74" fill="#5788aa" stroke="#25303a" stroke-width="0.5" stroke-opacity="0.9"/>
<rect x="494.4" y="234.53" width="5.3" height="0.87" fill="#5788aa" stroke="#25303a" stroke-width="0.5" stroke-opacity="0.9"/>
<rect x="504.4" y="231.92" width="5.3" height="3.48" fill="#5788aa" stroke="#25303a" stroke-width="0.5" stroke-opacity="0.9"/>
</g>
<defs><clipPath id="cf"><rect x="375.3" y="148.4" width="132.4" height="87"/></clipPath></defs>
<rect x="375.3" y="148.4" width="132.4" height="87" fill="none" stroke="#858585" stroke-width="0.9"/>
<path d="M388.54 235.4 v-1.3 M388.54 148.4 v1.3" stroke="#858585" stroke-width="0.8"/>
<path d="M401.78 235.4 v-1.3 M401.78 148.4 v1.3" stroke="#858585" stroke-width="0.8"/>
<path d="M415.02 235.4 v-1.3 M415.02 148.4 v1.3" stroke="#858585" stroke-width="0.8"/>
<path d="M428.26 235.4 v-1.3 M428.26 148.4 v1.3" stroke="#858585" stroke-width="0.8"/>
<path d="M441.5 235.4 v-1.3 M441.5 148.4 v1.3" stroke="#858585" stroke-width="0.8"/>
<path d="M454.74 235.4 v-1.3 M454.74 148.4 v1.3" stroke="#858585" stroke-width="0.8"/>
<path d="M467.98 235.4 v-1.3 M467.98 148.4 v1.3" stroke="#858585" stroke-width="0.8"/>
<path d="M481.22 235.4 v-1.3 M481.22 148.4 v1.3" stroke="#858585" stroke-width="0.8"/>
<path d="M494.46 235.4 v-1.3 M494.46 148.4 v1.3" stroke="#858585" stroke-width="0.8"/>
<path d="M375.3 218 h1.3 M507.7 218 h-1.3" stroke="#858585" stroke-width="0.8"/>
<path d="M375.3 200.6 h1.3 M507.7 200.6 h-1.3" stroke="#858585" stroke-width="0.8"/>
<path d="M375.3 183.2 h1.3 M507.7 183.2 h-1.3" stroke="#858585" stroke-width="0.8"/>
<path d="M375.3 165.8 h1.3 M507.7 165.8 h-1.3" stroke="#858585" stroke-width="0.8"/>
<text x="372.9" y="238.2" font-size="7.8" text-anchor="end" fill="#262626">0</text>
<text x="372.9" y="220.8" font-size="7.8" text-anchor="end" fill="#262626">20</text>
<text x="372.9" y="203.4" font-size="7.8" text-anchor="end" fill="#262626">40</text>
<text x="372.9" y="186" font-size="7.8" text-anchor="end" fill="#262626">60</text>
<text x="372.9" y="168.6" font-size="7.8" text-anchor="end" fill="#262626">80</text>
<text x="372.9" y="151.2" font-size="7.8" text-anchor="end" fill="#262626">100</text>
<text x="357.3" y="191.8" font-size="8.7" text-anchor="middle" fill="#262626" textLength="42" lengthAdjust="spacingAndGlyphs" transform="rotate(-90 357.3 191.8)">Occurrence</text>
<text x="394.24" y="243.1" font-size="7.8" text-anchor="end" fill="#262626" transform="rotate(-45 394.24 243.1)">0.1</text>
<text x="407.48" y="243.1" font-size="7.8" text-anchor="end" fill="#262626" transform="rotate(-45 407.48 243.1)">0.2</text>
<text x="420.72" y="243.1" font-size="7.8" text-anchor="end" fill="#262626" transform="rotate(-45 420.72 243.1)">0.3</text>
<text x="433.96" y="243.1" font-size="7.8" text-anchor="end" fill="#262626" transform="rotate(-45 433.96 243.1)">0.4</text>
<text x="447.2" y="243.1" font-size="7.8" text-anchor="end" fill="#262626" transform="rotate(-45 447.2 243.1)">0.5</text>
<text x="460.44" y="243.1" font-size="7.8" text-anchor="end" fill="#262626" transform="rotate(-45 460.44 243.1)">0.6</text>
<text x="473.68" y="243.1" font-size="7.8" text-anchor="end" fill="#262626" transform="rotate(-45 473.68 243.1)">0.7</text>
<text x="486.92" y="243.1" font-size="7.8" text-anchor="end" fill="#262626" transform="rotate(-45 486.92 243.1)">0.8</text>
<text x="500.16" y="243.1" font-size="7.8" text-anchor="end" fill="#262626" transform="rotate(-45 500.16 243.1)">0.9</text>
<text x="513.4" y="243.1" font-size="7.8" text-anchor="end" fill="#262626" transform="rotate(-45 513.4 243.1)">1</text>
<text x="441.5" y="261.6" font-size="8.7" text-anchor="middle" fill="#262626" textLength="18.6" lengthAdjust="spacingAndGlyphs">State</text>
<text x="379.3" y="140.8" font-size="8.2" font-weight="bold" fill="#000" textLength="124.1" lengthAdjust="spacingAndGlyphs">Inputs 10, V<tspan font-size="6.4" dy="3.8">cond.</tspan><tspan dy="-3.8">=2V, R</tspan><tspan font-size="6.4" dy="3.8">G</tspan><tspan dy="-3.8">=0.9k&#937;</tspan></text>
<text x="348.6" y="143.8" font-size="11" fill="#000">f<tspan dx="0.15">)</tspan></text>
<text x="467.75" y="161.7" font-size="12" fill="#1a1a1a" textLength="26.3" lengthAdjust="spacingAndGlyphs">ECM</text>
<text x="392.1" y="161.8" font-size="11.2" fill="#468f30" textLength="24" lengthAdjust="spacingAndGlyphs">92%</text>
<path d="M419.8 156.39 L420.9 155.73 L422.23 157.9 L427.35 152.25 L427.75 152.75 L422.43 159.7 L421.43 159.65 Z" fill="#468f30"/>
<rect x="611.05" y="148.4" width="68.15" height="87" fill="#c3c3c3"/>
<g clip-path="url(#ch)">
<rect x="542.9" y="154.27" width="5.32" height="81.13" fill="#70b1db" stroke="#25303a" stroke-width="0.5" stroke-opacity="0.9"/>
<rect x="564.18" y="234.31" width="5.32" height="1.09" fill="#70b1db" stroke="#25303a" stroke-width="0.5" stroke-opacity="0.9"/>
<rect x="580.14" y="234.31" width="5.32" height="1.09" fill="#70b1db" stroke="#25303a" stroke-width="0.5" stroke-opacity="0.9"/>
<rect x="628.02" y="233.22" width="5.32" height="2.18" fill="#5788aa" stroke="#25303a" stroke-width="0.5" stroke-opacity="0.9"/>
<rect x="633.34" y="234.31" width="5.32" height="1.09" fill="#5788aa" stroke="#25303a" stroke-width="0.5" stroke-opacity="0.9"/>
<rect x="638.66" y="234.31" width="5.32" height="1.09" fill="#5788aa" stroke="#25303a" stroke-width="0.5" stroke-opacity="0.9"/>
<rect x="649.3" y="232.14" width="5.32" height="3.26" fill="#5788aa" stroke="#25303a" stroke-width="0.5" stroke-opacity="0.9"/>
<rect x="654.62" y="233.22" width="5.32" height="2.18" fill="#5788aa" stroke="#25303a" stroke-width="0.5" stroke-opacity="0.9"/>
<rect x="659.94" y="233.22" width="5.32" height="2.18" fill="#5788aa" stroke="#25303a" stroke-width="0.5" stroke-opacity="0.9"/>
<rect x="665.26" y="232.14" width="5.32" height="3.26" fill="#5788aa" stroke="#25303a" stroke-width="0.5" stroke-opacity="0.9"/>
<rect x="670.58" y="234.31" width="5.32" height="1.09" fill="#5788aa" stroke="#25303a" stroke-width="0.5" stroke-opacity="0.9"/>
<rect x="675.9" y="225.61" width="5.32" height="9.79" fill="#5788aa" stroke="#25303a" stroke-width="0.5" stroke-opacity="0.9"/>
</g>
<defs><clipPath id="ch"><rect x="542.9" y="148.4" width="136.3" height="87"/></clipPath></defs>
<rect x="542.9" y="148.4" width="136.3" height="87" fill="none" stroke="#858585" stroke-width="0.9"/>
<path d="M556.53 235.4 v-1.3 M556.53 148.4 v1.3" stroke="#858585" stroke-width="0.8"/>
<path d="M570.16 235.4 v-1.3 M570.16 148.4 v1.3" stroke="#858585" stroke-width="0.8"/>
<path d="M583.79 235.4 v-1.3 M583.79 148.4 v1.3" stroke="#858585" stroke-width="0.8"/>
<path d="M597.42 235.4 v-1.3 M597.42 148.4 v1.3" stroke="#858585" stroke-width="0.8"/>
<path d="M611.05 235.4 v-1.3 M611.05 148.4 v1.3" stroke="#858585" stroke-width="0.8"/>
<path d="M624.68 235.4 v-1.3 M624.68 148.4 v1.3" stroke="#858585" stroke-width="0.8"/>
<path d="M638.31 235.4 v-1.3 M638.31 148.4 v1.3" stroke="#858585" stroke-width="0.8"/>
<path d="M651.94 235.4 v-1.3 M651.94 148.4 v1.3" stroke="#858585" stroke-width="0.8"/>
<path d="M665.57 235.4 v-1.3 M665.57 148.4 v1.3" stroke="#858585" stroke-width="0.8"/>
<path d="M542.9 213.65 h1.3 M679.2 213.65 h-1.3" stroke="#858585" stroke-width="0.8"/>
<path d="M542.9 191.9 h1.3 M679.2 191.9 h-1.3" stroke="#858585" stroke-width="0.8"/>
<path d="M542.9 170.15 h1.3 M679.2 170.15 h-1.3" stroke="#858585" stroke-width="0.8"/>
<text x="540.5" y="238.2" font-size="7.8" text-anchor="end" fill="#262626">0</text>
<text x="540.5" y="216.45" font-size="7.8" text-anchor="end" fill="#262626">20</text>
<text x="540.5" y="194.7" font-size="7.8" text-anchor="end" fill="#262626">40</text>
<text x="540.5" y="172.95" font-size="7.8" text-anchor="end" fill="#262626">60</text>
<text x="540.5" y="151.2" font-size="7.8" text-anchor="end" fill="#262626">80</text>
<text x="529.2" y="191.8" font-size="8.7" text-anchor="middle" fill="#262626" textLength="42" lengthAdjust="spacingAndGlyphs" transform="rotate(-90 529.2 191.8)">Occurrence</text>
<text x="562.23" y="243.1" font-size="7.8" text-anchor="end" fill="#262626" transform="rotate(-45 562.23 243.1)">0.1</text>
<text x="575.86" y="243.1" font-size="7.8" text-anchor="end" fill="#262626" transform="rotate(-45 575.86 243.1)">0.2</text>
<text x="589.49" y="243.1" font-size="7.8" text-anchor="end" fill="#262626" transform="rotate(-45 589.49 243.1)">0.3</text>
<text x="603.12" y="243.1" font-size="7.8" text-anchor="end" fill="#262626" transform="rotate(-45 603.12 243.1)">0.4</text>
<text x="616.75" y="243.1" font-size="7.8" text-anchor="end" fill="#262626" transform="rotate(-45 616.75 243.1)">0.5</text>
<text x="630.38" y="243.1" font-size="7.8" text-anchor="end" fill="#262626" transform="rotate(-45 630.38 243.1)">0.6</text>
<text x="644.01" y="243.1" font-size="7.8" text-anchor="end" fill="#262626" transform="rotate(-45 644.01 243.1)">0.7</text>
<text x="657.64" y="243.1" font-size="7.8" text-anchor="end" fill="#262626" transform="rotate(-45 657.64 243.1)">0.8</text>
<text x="671.27" y="243.1" font-size="7.8" text-anchor="end" fill="#262626" transform="rotate(-45 671.27 243.1)">0.9</text>
<text x="684.9" y="243.1" font-size="7.8" text-anchor="end" fill="#262626" transform="rotate(-45 684.9 243.1)">1</text>
<text x="611.05" y="261.6" font-size="8.7" text-anchor="middle" fill="#262626" textLength="18.6" lengthAdjust="spacingAndGlyphs">State</text>
<text x="548.5" y="140.8" font-size="8.2" font-weight="bold" fill="#000" textLength="124.2" lengthAdjust="spacingAndGlyphs">Inputs 10, V<tspan font-size="6.4" dy="3.8">cond.</tspan><tspan dy="-3.8">=2V, R</tspan><tspan font-size="6.4" dy="3.8">G</tspan><tspan dy="-3.8">=0.4k&#937;</tspan></text>
<text x="519.9" y="143.8" font-size="11" fill="#000">h<tspan dx="0.15">)</tspan></text>
<text x="635.75" y="160.4" font-size="12" fill="#1a1a1a" textLength="26.2" lengthAdjust="spacingAndGlyphs">ECM</text>
<text x="565.6" y="161.8" font-size="11.2" fill="#468f30" textLength="24" lengthAdjust="spacingAndGlyphs">76%</text>
<path d="M593.6 156.39 L594.7 155.73 L595.9 157.9 L600.65 152.25 L601.05 152.75 L596.1 159.7 L595.1 159.65 Z" fill="#468f30"/>
</svg></body></html>
